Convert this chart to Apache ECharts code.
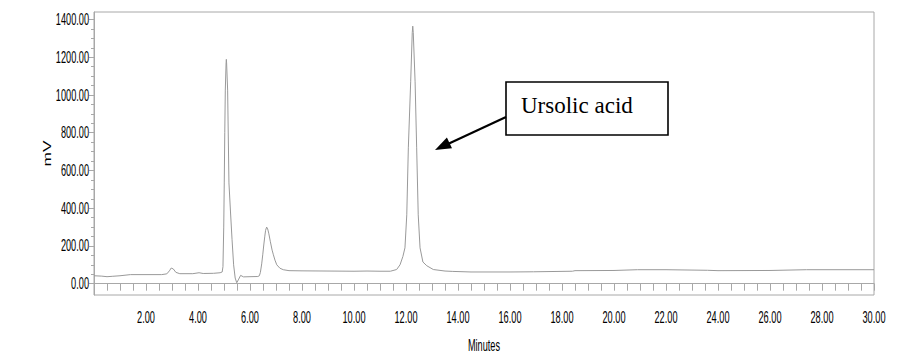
<!DOCTYPE html>
<html>
<head>
<meta charset="utf-8">
<script src="https://cdn.jsdelivr.net/npm/echarts@6/dist/echarts.min.js"></script>
<style>
html,body{margin:0;padding:0;background:#fff;}
#chart{width:902px;height:360px;}
</style>
</head>
<body>
<div id="chart"></div>
<script>
// Retention time (minutes)
const times = [0.00,0.30,0.50,0.70,1.00,1.40,2.00,2.60,2.80,2.90,2.97,3.05,3.15,3.30,3.80,4.04,4.20,4.60,4.85,4.93,4.96,4.99,5.01,5.03,5.05,5.08,5.09,5.10,5.14,5.19,5.25,5.31,5.37,5.43,5.49,5.55,5.64,5.75,6.00,6.30,6.36,6.40,6.45,6.49,6.53,6.57,6.60,6.64,6.68,6.72,6.78,6.85,6.90,6.96,7.03,7.15,7.28,7.50,8.00,9.00,10.00,10.50,11.00,11.40,11.64,11.77,11.88,11.96,12.03,12.09,12.18,12.24,12.26,12.28,12.35,12.41,12.47,12.54,12.65,12.80,13.05,13.50,13.80,14.50,16.00,16.90,18.40,18.50,20.00,20.90,22.00,23.60,24.00,26.00,27.40,30.00];
// Detector signal (mV)
const signal = [42,40,37,39,42,48,48,48,52,68,83,78,60,53,53,58,54,55,58,62,90,300,534,800,1026,1170,1189,1170,1026,534,380,233,100,30,5,20,44,36,37,38,42,60,105,153,205,252,283,300,290,268,225,178,153,125,100,82,74,69,68,67,66,67,66,66,75,100,144,190,365,720,1070,1330,1365,1330,1070,720,365,190,115,95,75,67,65,62,62,63,66,69,70,74,74,71,69,70,74,74];
// Axis ticks and labels
const xLabelValues = [2,4,6,8,10,12,14,16,18,20,22,24,26,28,30];
const xTickValues = [];
for (let i = 1; i <= 60; i++) xTickValues.push(i * 0.5);
const yLabelValues = [0,200,400,600,800,1000,1200,1400];
const yMinorTickValues = [];
for (let i = 0; i <= 28; i++) yMinorTickValues.push(i * 50);
const annotationText = 'Ursolic acid';

const axisFont = "'Liberation Sans',Arial,sans-serif";
const gray = '#a8a8a8';

const chart = echarts.init(document.getElementById('chart'), null, {renderer: 'svg'});
chart.setOption({
  animation: false,
  grid: {left: 94, right: 28, top: 12, bottom: 65, show: true, borderColor: gray, borderWidth: 1, backgroundColor: 'transparent'},
  xAxis: {
    type: 'value', min: 0, max: 30, interval: 2,
    name: 'Minutes', nameLocation: 'middle', nameGap: 42, nameMoveOverlap: false,
    nameTextStyle: {color: '#000', fontFamily: axisFont, fontSize: 17},
    axisLine: {show: true, lineStyle: {color: gray, width: 1}},
    axisTick: {show: true, customValues: xTickValues, length: 7, lineStyle: {color: gray}},
    axisLabel: {customValues: xLabelValues, formatter: v => v.toFixed(2), color: '#000', fontFamily: axisFont, fontSize: 17, margin: 14, hideOverlap: false},
    splitLine: {show: false}
  },
  yAxis: [{
    type: 'value', min: -60, max: 1440,
    name: 'mV', nameLocation: 'middle', nameGap: 42, nameMoveOverlap: false,
    nameTextStyle: {color: '#000', fontFamily: axisFont, fontSize: 10},
    axisLine: {show: true, lineStyle: {color: gray, width: 1}},
    axisTick: {show: true, customValues: yLabelValues, length: 5, lineStyle: {color: gray}},
    axisLabel: {customValues: yLabelValues, formatter: v => v.toFixed(2), color: '#000', fontFamily: axisFont, fontSize: 17, margin: 5, hideOverlap: false},
    splitLine: {show: false}
  }, {
    type: 'value', min: -60, max: 1440, position: 'left',
    axisLine: {show: false},
    axisTick: {show: true, customValues: yMinorTickValues, length: 3, lineStyle: {color: gray}},
    axisLabel: {show: false},
    splitLine: {show: false}
  }],
  series: [{
    type: 'line',
    yAxisIndex: 0,
    data: times.map((t, i) => [t, signal[i]]),
    showSymbol: false,
    symbol: 'none',
    lineStyle: {color: '#999999', width: 1},
    silent: true
  }],
  graphic: [
    {type: 'rect', shape: {x: 506, y: 82, width: 162, height: 53}, style: {fill: '#fff', stroke: '#000', lineWidth: 1.6}},
    {type: 'text', x: 521, y: 105, style: {text: annotationText, fill: '#000', font: "23px 'Liberation Serif','Times New Roman',serif", verticalAlign: 'middle', align: 'left'}},
    {type: 'line', shape: {x1: 506, y1: 117, x2: 449, y2: 143.5}, style: {stroke: '#000', lineWidth: 2.2}},
    {type: 'polygon', shape: {points: [[435, 150], [452.0, 148.3], [446.9, 137.4]]}, style: {fill: '#000'}}
  ]
});

// The reference axis font is strongly condensed: compress axis texts horizontally.
function squeezeAxisText() {
  document.querySelectorAll('#chart svg text').forEach(t => {
    if (t.getAttribute('data-sq')) return;
    const s = t.textContent;
    if (/^\d+\.00$/.test(s) || s === 'Minutes') {
      const w = t.getComputedTextLength();
      t.setAttribute('textLength', (w * 0.54).toFixed(1));
      t.setAttribute('lengthAdjust', 'spacingAndGlyphs');
      t.setAttribute('data-sq', '1');
    } else if (s === 'mV') {
      t.setAttribute('textLength', '26');
      t.setAttribute('lengthAdjust', 'spacingAndGlyphs');
      t.setAttribute('data-sq', '1');
    }
  });
}
squeezeAxisText();
chart.on('finished', squeezeAxisText);
</script>
</body>
</html>
